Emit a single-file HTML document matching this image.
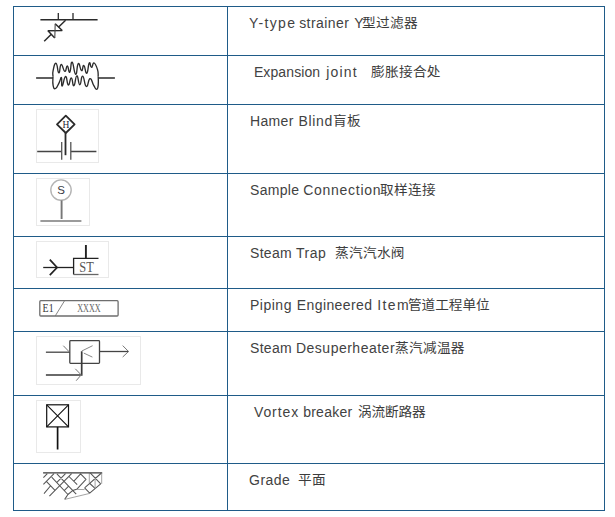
<!DOCTYPE html>
<html lang="zh-CN">
<head>
<meta charset="utf-8">
<title>Piping symbol legend</title>
<style>
html,body{margin:0;padding:0;background:#fff;}
body{width:615px;height:517px;overflow:hidden;position:relative;font-family:"Liberation Sans","Noto Sans CJK SC",sans-serif;}
table{position:absolute;left:13px;top:6px;border-collapse:separate;border-spacing:0;border-top:1px solid #1f5b88;border-left:1px solid #1f5b88;table-layout:fixed;width:592px;}
td{padding:0;margin:0;border-right:1px solid #1f5b88;border-bottom:1px solid #1f5b88;vertical-align:top;overflow:hidden;}
td.s{width:213px;}
td.t{width:376px;}
td svg{display:block;}
.tx{display:block;margin:0;padding:6px 0 0 22px;line-height:20px;color:#424242;white-space:pre;font-size:14px;}
.tx span{display:inline-block;}
.zh{font-size:13px;position:relative;top:-1px;color:#3c3c3c;transform:scaleX(1.05);transform-origin:0 50%;}
svg text{font-family:"Liberation Serif",serif;}
</style>
</head>
<body>
<table>
<tr style="height:49px">
<td class="s"><svg width="213" height="48" viewBox="14 7 213 48">
<g fill="none" stroke="#2b2b2b" stroke-width="1.5">
<path d="M40.4 19.8H97.6"/>
<path d="M58.3 12.9V19.8M73 12.9V19.8" stroke-width="1.3"/>
<path d="M65.6 20.2L58.4 27.2M51.3 34.2L44.2 41.3"/>
<path d="M55.2 23.8L62.2 30.5L47.9 30.8L54.8 37.9" stroke-linejoin="bevel"/>
<path d="M55.2 23.8L54.8 37.9" stroke="#4a4a4a" stroke-width="1.1"/>
</g>
</svg></td>
<td class="t"><p class="tx"><span style="letter-spacing:1.35px;margin-left:-1px">Y-type</span> <span style="letter-spacing:0.45px;margin-left:-1px">strainer</span> <span style="letter-spacing:0.5px;margin-left:1px">Y</span><span class="zh" style="letter-spacing:0.3px;margin-left:-2px">型过滤器</span></p></td>
</tr>
<tr style="height:49px">
<td class="s"><svg width="213" height="48" viewBox="14 56 213 48">
<g fill="none" stroke="#2b2b2b" stroke-width="1.35" stroke-linejoin="round">
<path d="M36.1 78H53M98.2 78H114.9"/>
<path d="M53.0 76.5C53.0 74.9 52.3 74.1 53.1 70.6C53.9 67.1 54.5 62.7 56.1 63.3C57.6 63.9 57.5 72.5 58.8 72.8C60.2 73.1 59.6 64.9 61.2 64.5C62.8 64.1 63.2 71.0 64.8 71.4C66.5 71.8 66.0 65.8 67.3 66.0C68.6 66.1 68.5 73.1 69.8 72.1C71.1 71.1 70.6 61.6 72.1 62.1C73.7 62.7 74.0 73.9 75.7 74.3C77.3 74.7 76.7 64.6 78.3 63.6C79.9 62.6 80.0 70.1 81.5 70.6C83.0 71.1 82.5 64.8 83.9 65.5C85.3 66.2 85.3 73.9 86.8 73.3C88.2 72.6 88.0 64.6 89.3 63.0C90.5 61.5 90.2 67.4 91.5 67.4C92.8 67.4 92.5 62.4 94.1 63.0C95.7 63.7 96.5 66.3 97.6 69.9C98.7 73.5 98.0 74.7 98.2 76.5"/>
<path d="M53.0 76.5C53.0 78.8 52.4 82.1 53.1 85.3C53.8 88.5 54.0 89.3 55.6 88.5C57.3 87.7 57.7 85.2 59.3 82.3C60.8 79.5 60.7 76.7 61.5 77.7C62.2 78.6 61.1 86.3 62.2 86.0C63.3 85.7 63.9 76.8 65.6 76.5C67.2 76.2 66.8 84.6 68.3 85.0C69.9 85.4 69.8 77.8 71.3 78.0C72.8 78.1 72.4 86.3 73.9 85.7C75.4 85.1 75.3 76.0 76.8 75.8C78.4 75.5 78.2 84.7 79.8 84.8C81.3 84.9 80.9 75.8 82.7 76.2C84.4 76.6 84.4 85.8 86.3 86.4C88.3 87.1 88.1 79.0 90.0 78.7C92.0 78.4 91.9 82.4 93.7 85.3C95.4 88.1 95.4 89.4 96.6 89.4C97.8 89.4 97.8 88.7 98.2 85.3C98.6 81.8 98.2 78.8 98.2 76.5"/>
</g>
</svg></td>
<td class="t"><p class="tx">&nbsp;<span style="letter-spacing:0.11px;margin-left:0px">Expansion</span> <span style="letter-spacing:1.21px;margin-left:2px">joint</span>   <span class="zh" style="letter-spacing:0.3px;margin-left:1px">膨胀接合处</span></p></td>
</tr>
<tr style="height:69px">
<td class="s"><svg width="213" height="68" viewBox="14 105 213 68">
<rect x="36.5" y="109.5" width="62" height="53" fill="#fff" stroke="#e9e9e9"/>
<g fill="none" stroke="#2b2b2b">
<path d="M65.8 115.6L74.6 124.3L65.8 133L57 124.3Z" stroke-width="1.8" stroke-linejoin="round"/>
<path d="M65.5 132.6V155.2" stroke-width="1.8"/>
<path d="M37.2 151.4H61.4M70.9 151.4H96.4" stroke="#444" stroke-width="1.45"/>
<path d="M61.7 142V159.7M70.8 142V159.7" stroke="#555" stroke-width="1.3"/>
</g>
<text x="65.9" y="127.5" font-size="9.5" text-anchor="middle" fill="#223">H</text>
</svg></td>
<td class="t"><p class="tx"><span style="letter-spacing:0.34px;margin-left:0px">Hamer</span> <span style="letter-spacing:0.62px;margin-left:1px">Blind</span><span class="zh" style="letter-spacing:0.3px;margin-left:0px">肓板</span></p></td>
</tr>
<tr style="height:63px">
<td class="s"><svg width="213" height="62" viewBox="14 174 213 62">
<rect x="36.5" y="178.5" width="53" height="47" fill="#fff" stroke="#e9e9e9"/>
<circle cx="61" cy="190.1" r="10.2" fill="none" stroke="#b4b4b4" stroke-width="1.4"/>
<path d="M61.6 200.4V219" fill="none" stroke="#777" stroke-width="1.9"/>
<path d="M40.4 221H81.4" fill="none" stroke="#7a7a7a" stroke-width="1.7"/>
<text x="61.1" y="193.9" font-size="11.5" text-anchor="middle" fill="#3a3a44" style="font-family:'Liberation Sans',sans-serif">S</text>
</svg></td>
<td class="t"><p class="tx"><span style="letter-spacing:0.32px;margin-left:0px">Sample</span> <span style="letter-spacing:0.71px;margin-left:0px">Connection</span><span class="zh" style="letter-spacing:0.3px;margin-left:-1px">取样连接</span></p></td>
</tr>
<tr style="height:52px">
<td class="s"><svg width="213" height="51" viewBox="14 237 213 51">
<rect x="36.5" y="241.5" width="72" height="36" fill="#fff" stroke="#e9e9e9"/>
<g fill="none" stroke="#222">
<path d="M43.2 267.5H73.6" stroke-width="1.3"/>
<path d="M49.8 259.6L57.1 267.5L49.8 275.2" stroke-width="1.7"/>
<path d="M98.5 258.4H73.6V274.5" stroke-width="1.3"/>
<path d="M73.6 274.5H98.5" stroke="#666" stroke-width="1.3"/>
<path d="M85.9 245V258.4" stroke-width="1.9"/>
</g>
<text x="79.3" y="272" font-size="14" textLength="14.5" lengthAdjust="spacingAndGlyphs" fill="#555">ST</text>
</svg></td>
<td class="t"><p class="tx"><span style="letter-spacing:0.32px;margin-left:0px">Steam</span> <span style="letter-spacing:0.5px;margin-left:0px">Trap</span>  <span class="zh" style="letter-spacing:0.3px;margin-left:1px">蒸汽汽水阀</span></p></td>
</tr>
<tr style="height:43px">
<td class="s"><svg width="213" height="42" viewBox="14 289 213 42">
<rect x="39.8" y="300.7" width="78.3" height="15.3" rx="1" fill="none" stroke="#6e6e6e" stroke-width="1.3"/>
<path d="M64.6 300.7L55.2 316" fill="none" stroke="#777" stroke-width="0.9"/>
<text x="42.6" y="311.6" font-size="12" textLength="11" lengthAdjust="spacingAndGlyphs" fill="#333">E1</text>
<text x="77.2" y="311.6" font-size="12" textLength="23.5" lengthAdjust="spacingAndGlyphs" fill="#666">XXXX</text>
</svg></td>
<td class="t"><p class="tx"><span style="letter-spacing:0.5px;margin-left:0px">Piping</span> <span style="letter-spacing:0.39px;margin-left:1px">Engineered</span> <span style="letter-spacing:1.38px;margin-left:1px">Item</span><span class="zh" style="letter-spacing:-0.04px;margin-left:-2px">管道工程单位</span></p></td>
</tr>
<tr style="height:64px">
<td class="s"><svg width="213" height="63" viewBox="14 332 213 63">
<rect x="36.5" y="336.5" width="104" height="48" fill="#fff" stroke="#e9e9e9"/>
<g fill="none" stroke="#444">
<rect x="69.8" y="340.6" width="29.7" height="22.7" rx="0.8" stroke-width="1.3"/>
<path d="M45.9 352.2H69.8" stroke-width="1.3"/>
<path d="M63.3 345.7L69.4 352" stroke="#777" stroke-width="1"/>
<path d="M99.5 351.5H128.5" stroke-width="1.3"/>
<path d="M122.7 345.6L128.5 351.5L122.7 357" stroke="#777" stroke-width="1"/>
<path d="M45.9 375H81.7V351.2" stroke="#3a3a3a" stroke-width="1.7"/>
<path d="M75.3 368.8L81.2 374.9L76.2 380.7" stroke="#777" stroke-width="1"/>
<path d="M81.8 351L92.6 345.7M83.8 353.1L92.4 357.1" stroke="#888" stroke-width="1"/>
</g>
</svg></td>
<td class="t"><p class="tx"><span style="letter-spacing:0.32px;margin-left:0px">Steam</span> <span style="letter-spacing:0.5px;margin-left:0px">Desuperheater</span><span class="zh" style="letter-spacing:0.3px;margin-left:0px">蒸汽减温器</span></p></td>
</tr>
<tr style="height:68px">
<td class="s"><svg width="213" height="67" viewBox="14 396 213 67">
<rect x="36.5" y="400.5" width="44" height="52" fill="#fff" stroke="#e9e9e9"/>
<g fill="none" stroke="#111">
<rect x="46.7" y="404.8" width="21.8" height="22.1" stroke-width="1.2"/>
<path d="M46.7 404.8L68.5 426.9M68.5 404.8L46.7 426.9" stroke-width="1.1"/>
<path d="M57.6 426.9V449.5" stroke-width="1.7"/>
</g>
</svg></td>
<td class="t"><p class="tx">&nbsp;<span style="letter-spacing:0.94px;margin-left:0px">Vortex</span> <span style="letter-spacing:0.26px;margin-left:0px">breaker</span> <span class="zh" style="letter-spacing:-0.15px;margin-left:2px">涡流断路器</span></p></td>
</tr>
<tr style="height:47px">
<td class="s"><svg width="213" height="46" viewBox="14 464 213 46">
<g fill="none" stroke-linejoin="round">
<path d="M43.4 477.7L47.3 473.6M43.4 484.4L54.0 473.6M44.0 493.6L50.4 486.0M46.6 481.6L55.0 490.4M51.7 477.2L67.9 494.5M56.9 473.9L76.2 494.2M49.4 496.2L71.6 473.7M56.9 482.3L65.5 473.6M64.2 490.6L68.4 486.4M64.7 499.4L67.9 494.5L72.6 490.6L76.7 489.3M69.0 476.5L77.2 484.6M73.9 481.1L80.6 473.8L86.0 479.3L76.7 489.3M84.6 487.9L100.9 473.5M84.6 487.9L89.7 493.2L100.7 483.9M90.4 473.2L100.7 483.9M89.3 483.0L95.3 488.6" stroke="#555" stroke-width="1.05"/>
<path d="M76.7 489.4L84.6 489.6M89.3 473.2L89.3 483.0M95.1 478.4L95.1 488.6M101.7 473.2L101.7 483.9M64.7 499.4L89.7 493.4" stroke="#999" stroke-width="0.9"/>
<path d="M43.1 472.9H102.2" stroke="#3a3a3a" stroke-width="1.4"/>
</g>
</svg></td>
<td class="t"><p class="tx"><span style="letter-spacing:0.5px;margin-left:-1px">Grade</span>  <span class="zh" style="letter-spacing:0.3px;margin-left:0px">平面</span></p></td>
</tr>
</table>
</body>
</html>
